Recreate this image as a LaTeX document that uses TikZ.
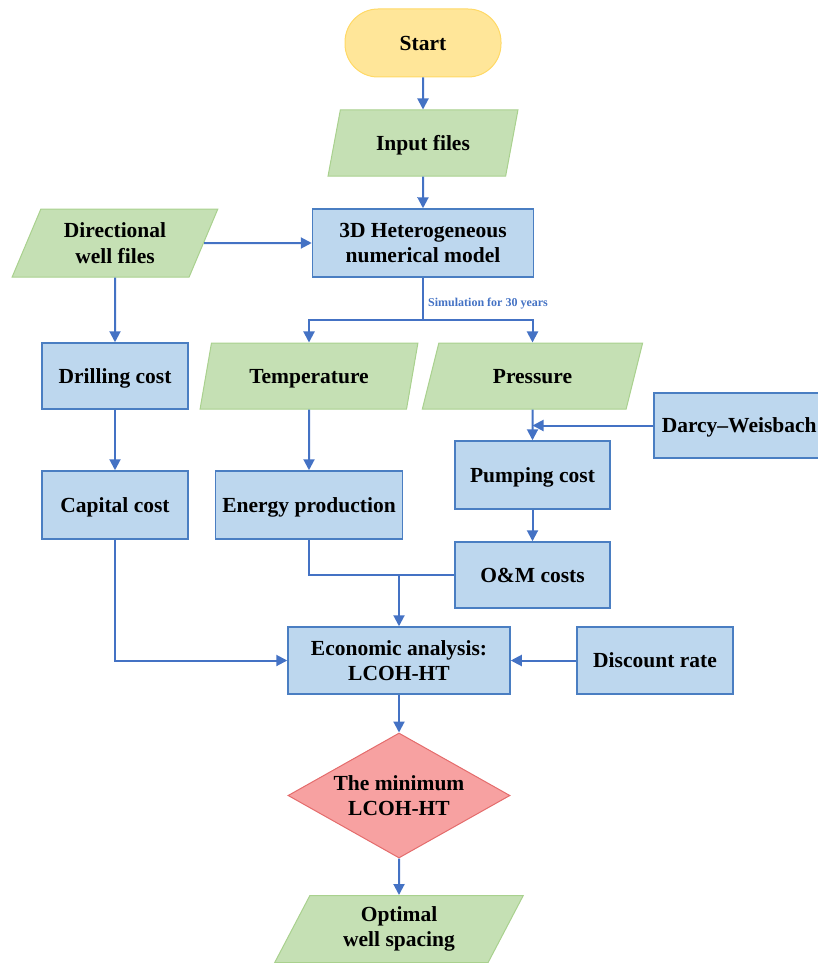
\documentclass[tikz,border=0pt]{standalone}
\usepackage{fontspec}
\setmainfont{Liberation Serif}
\usetikzlibrary{shapes.geometric,arrows.meta}
\definecolor{boxfill}{HTML}{BDD7EE}
\definecolor{boxline}{HTML}{4A7EC2}
\definecolor{parfill}{HTML}{C5E0B4}
\definecolor{parline}{HTML}{A9D18E}
\definecolor{startfill}{HTML}{FFE699}
\definecolor{startline}{HTML}{FFD966}
\definecolor{decfill}{HTML}{F7A1A1}
\definecolor{decline}{HTML}{E46C6C}
\definecolor{linkc}{HTML}{4472C4}
\begin{document}
\begin{tikzpicture}[x=1pt,y=-1pt,
  every node/.style={font=\fontsize{21.5}{25.5}\selectfont\bfseries, align=center, inner sep=0pt},
  one/.style={text height=14.3pt, text depth=0pt},
  box/.style={rectangle, draw=boxline, fill=boxfill, line width=1.5pt},
  para/.style={trapezium, trapezium left angle=64, trapezium right angle=116,
    trapezium stretches=true, draw=parline, fill=parfill, line width=1pt},
  link/.style={draw=linkc, line width=2pt},
  arr/.style={link, -{Triangle[length=11pt,width=11pt]}},
]
\useasboundingbox (0,0) rectangle (817,963);

\node[one, rectangle, rounded corners=33pt, minimum width=156pt, minimum height=68pt,
  fill=startfill, draw=startline, line width=1pt] (start) at (423,43) {Start};
\node[one, para, minimum width=190pt, minimum height=66pt] (input) at (423,143) {Input files};
\node[box, minimum width=221pt, minimum height=68pt] (model) at (423,243) {3D Heterogeneous\\numerical model};
\node[para, minimum width=206pt, minimum height=68pt] (dir) at (115,243) {Directional\\well files};

\coordinate (split) at (423,320);
\node[font=\fontsize{12}{14}\selectfont\bfseries, text=linkc, anchor=west] (sim) at (428,304) {Simulation for 30 years};

\node[one, box, minimum width=146pt, minimum height=66pt] (drill) at (115,376) {Drilling cost};
\node[one, para, minimum width=218pt, minimum height=66pt] (temp) at (309,376) {Temperature};
\node[one, para, minimum width=221pt, minimum height=66pt] (press) at (532.5,376) {Pressure};

\node[one, box, anchor=west, minimum height=65pt, inner xsep=8pt, text width=180pt, align=left] (darcy) at (653,425.5) {Darcy--Weisbach};
\node[one, box, minimum width=155pt, minimum height=68pt] (pump) at (532.5,475) {Pumping cost};

\node[one, box, minimum width=146pt, minimum height=68pt] (cap) at (115,505) {Capital cost};
\node[one, box, minimum width=187pt, minimum height=68pt] (energy) at (309,505) {Energy production};
\node[one, box, minimum width=155pt, minimum height=66pt] (om) at (532.5,575) {O\&M costs};

\node[box, minimum width=222pt, minimum height=67pt] (econ) at (399,660.5) {Economic analysis:\\LCOH-HT};
\node[one, box, minimum width=156pt, minimum height=67pt] (disc) at (655,660.5) {Discount rate};

\node[diamond, aspect=1.776, minimum width=222pt, minimum height=125pt,
  fill=decfill, draw=decline, line width=1pt] (dec) at (399,795.5) {The minimum\\LCOH-HT};
\node[para, minimum width=249pt, minimum height=67pt] (opt) at (399,929) {Optimal\\well spacing};

\draw[arr] (start.south) -- (input.north);
\draw[arr] (input.south) -- (model.north);
\draw[arr] (dir.east) -- (model.west);
\draw[link] (model.south) -- (split);
\draw[arr] (split) -| (temp.north);
\draw[arr] (split) -| (press.north);
\draw[arr] (dir.south) -- (drill.north);
\draw[arr] (drill.south) -- (cap.north);
\draw[arr] (temp.south) -- (energy.north);
\draw[arr] (press.south) -- (pump.north);
\draw[arr] (darcy.west) -- (darcy.west -| pump.north);
\draw[arr] (pump.south) -- (om.north);
\draw[link] (energy.south) |- (om.west);
\draw[arr] (econ.north |- om.west) -- (econ.north);
\draw[arr] (cap.south) |- (econ.west);
\draw[arr] (disc.west) -- (econ.east);
\draw[arr] (econ.south) -- (dec.north);
\draw[arr] (dec.south) -- (opt.north);
\end{tikzpicture}
\end{document}
